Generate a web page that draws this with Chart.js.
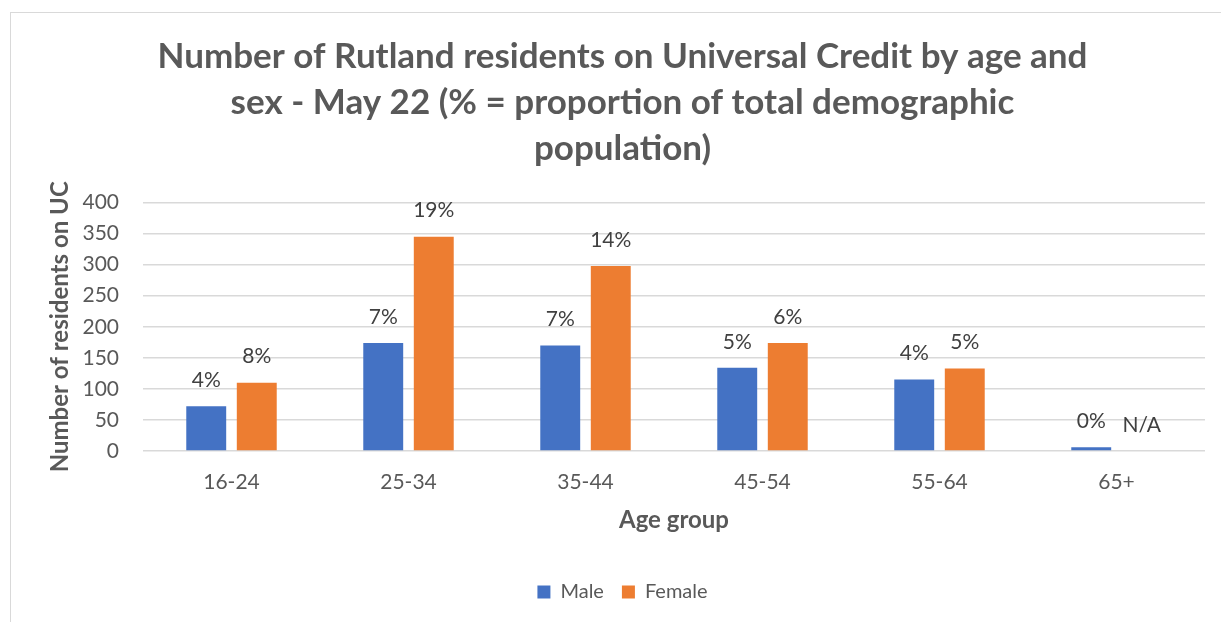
<!DOCTYPE html>
<html lang="en">
<head>
  <meta charset="UTF-8">
  <title>Rutland Universal Credit by age and sex</title>
  <script src="https://cdn.jsdelivr.net/npm/chart.js"></script>
  <style>
    body {
      margin: 0;
      padding: 0;
      background: #fff;
      font-family: Lato, sans-serif;
    }
    #wrap {
      position: relative;
      width: 1221px;
      height: 622px;
      overflow: hidden;
    }
    #frame {
      position: absolute;
      left: 10px;
      top: 12px;
      width: 1300px;
      height: 700px;
      border: 1px solid #d9d9d9;
    }
    canvas {
      position: absolute;
      left: 0;
      top: 0;
    }
  </style>
</head>
<body>
  <div id="wrap">
    <div id="frame"></div>
    <canvas id="chart" width="1221" height="622"></canvas>
  </div>

  <script>
    const titleLines = [
      "Number of Rutland residents on Universal Credit by age and",
      "sex - May 22 (% = proportion of total demographic",
      "population)"
    ];
    const ageGroups = ["16-24", "25-34", "35-44", "45-54", "55-64", "65+"];
    const maleCounts = [72, 174, 170, 134, 115, 6];
    const femaleCounts = [110, 345, 298, 174, 133, 0];
    const malePct = ["4%", "7%", "7%", "5%", "4%", "0%"];
    const femalePct = ["8%", "19%", "14%", "6%", "5%", "N/A"];

    const grey = "#595959";

    // Beschriftung über den Balken
    const barLabels = {
      id: "barLabels",
      afterDatasetsDraw(chart) {
        const ctx = chart.ctx;
        ctx.save();
        ctx.font = "21px Lato, sans-serif";
        ctx.fillStyle = "#404040";
        ctx.textAlign = "center";
        ctx.textBaseline = "middle";
        chart.data.datasets.forEach((ds, i) => {
          const meta = chart.getDatasetMeta(i);
          meta.data.forEach((bar, j) => {
            ctx.fillText(ds.pctLabels[j], bar.x, bar.y - 26);
          });
        });
        ctx.restore();
      }
    };

    new Chart(document.getElementById("chart"), {
      type: "bar",
      data: {
        labels: ageGroups,
        datasets: [
          {
            label: "Male",
            data: maleCounts,
            pctLabels: malePct,
            backgroundColor: "#4472C4",
            barPercentage: 0.79,
            categoryPercentage: 0.571
          },
          {
            label: "Female",
            data: femaleCounts,
            pctLabels: femalePct,
            backgroundColor: "#ED7D31",
            barPercentage: 0.79,
            categoryPercentage: 0.571
          }
        ]
      },
      options: {
        responsive: false,
        animation: false,
        layout: { padding: { left: 40, right: 16, top: 12, bottom: 10 } },
        plugins: {
          title: {
            display: true,
            text: titleLines,
            color: grey,
            font: { family: "Lato", size: 35, weight: "bold", lineHeight: 1.31 },
            padding: { top: 22, bottom: 31 }
          },
          legend: {
            position: "bottom",
            labels: {
              color: grey,
              font: { family: "Lato", size: 20 },
              boxWidth: 13,
              boxHeight: 13,
              padding: 18
            }
          },
          tooltip: { enabled: false }
        },
        scales: {
          x: {
            grid: { display: false },
            border: { display: false },
            ticks: { color: grey, font: { family: "Lato", size: 21 }, padding: 11 },
            title: {
              display: true,
              text: "Age group",
              color: grey,
              font: { family: "Lato", size: 24, weight: "bold" },
              padding: { top: 0, bottom: 29 }
            }
          },
          y: {
            min: 0,
            max: 400,
            ticks: { stepSize: 50, color: grey, font: { family: "Lato", size: 21 }, padding: 24 },
            grid: { color: "#d9d9d9", lineWidth: 1.5, drawTicks: false },
            border: { display: false },
            title: {
              display: true,
              text: "Number of residents on UC",
              color: grey,
              font: { family: "Lato", size: 24, weight: "bold" },
              padding: { top: 6, bottom: 0 }
            },
            afterFit(scale) { scale.width = 103; }
          }
        }
      },
      plugins: [barLabels]
    });
  </script>
</body>
</html>
